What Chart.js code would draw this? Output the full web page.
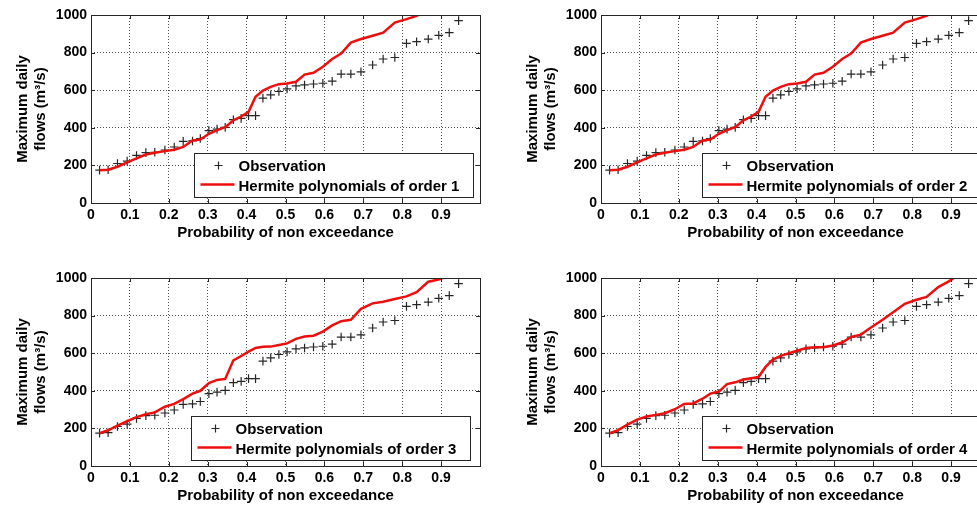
<!DOCTYPE html>
<html>
<head>
<meta charset="utf-8">
<script src="https://cdn.jsdelivr.net/npm/chart.js@4.4.1/dist/chart.umd.min.js"></script>
<style>
  html, body { margin: 0; padding: 0; background: #fff; overflow: hidden; width: 977px; height: 505px; }
  .pane { position: absolute; width: 490px; height: 250px; }
</style>
</head>
<body>
<div class="pane" style="left:0px;top:0px"><canvas id="c1"></canvas></div>
<div class="pane" style="left:510px;top:0px"><canvas id="c2"></canvas></div>
<div class="pane" style="left:0px;top:263px"><canvas id="c3"></canvas></div>
<div class="pane" style="left:510px;top:263px"><canvas id="c4"></canvas></div>
<script>
// ---- Data ----
const probability = [0.022, 0.044, 0.068, 0.093, 0.117, 0.141, 0.164, 0.190, 0.214, 0.237,
                     0.261, 0.281, 0.303, 0.324, 0.345, 0.366, 0.386, 0.405, 0.423, 0.442,
                     0.462, 0.483, 0.504, 0.527, 0.549, 0.572, 0.596, 0.620, 0.643, 0.668,
                     0.694, 0.724, 0.751, 0.781, 0.811, 0.837, 0.867, 0.894, 0.921, 0.945];

const observedFlow = [175, 177, 210, 223, 253, 268, 270, 282, 298, 328,
                      330, 343, 385, 393, 402, 443, 450, 465, 465, 558,
                      575, 593, 607, 623, 628, 633, 637, 648, 686, 686,
                      698, 734, 766, 774, 849, 858, 872, 892, 906, 970];

const hermiteOrder1 = [174, 177, 193, 216, 237, 258, 267, 276, 283, 298,
                       333, 338, 368, 388, 403, 440, 460, 485, 565, 598,
                       618, 632, 636, 645, 683, 693, 725, 766, 795, 853,
                       872, 890, 906, 960, 978, 995, 1030, null, null, null];

const hermiteOrder2 = [174, 177, 193, 216, 237, 258, 267, 276, 283, 298,
                       333, 338, 368, 388, 403, 440, 460, 485, 565, 598,
                       618, 632, 636, 645, 683, 693, 725, 766, 795, 853,
                       872, 890, 906, 960, 978, 995, 1030, null, null, null];

const hermiteOrder3 = [174, 190, 215, 238, 260, 275, 285, 315, 330, 356,
                       385, 400, 441, 458, 463, 562, 585, 608, 628, 634,
                       635, 644, 652, 676, 689, 693, 715, 748, 770, 778,
                       836, 865, 874, 888, 902, 925, 980, 992, 1016, null];

const hermiteOrder4 = [174, 191, 220, 247, 263, 272, 281, 302, 330, 333,
                       358, 385, 396, 436, 445, 460, 467, 473, 527, 566,
                       586, 600, 613, 628, 632, 632, 641, 657, 686, 699,
                       737, 778, 818, 863, 884, 899, 952, 982, 1020, null];

const xTicks = [0, 0.1, 0.2, 0.3, 0.4, 0.5, 0.6, 0.7, 0.8, 0.9];
const yTicks = [0, 200, 400, 600, 800, 1000];

const xTitle = 'Probability of non exceedance';
const yTitle = ['Maximum daily', 'flows (m\u00B3/s)'];
const obsLabel = 'Observation';
const modelLabels = ['Hermite polynomials of order 1', 'Hermite polynomials of order 2',
                     'Hermite polynomials of order 3', 'Hermite polynomials of order 4'];

// ---- Styling ----
Chart.defaults.font.family = '"Liberation Sans", Arial, sans-serif';
Chart.defaults.font.weight = 'bold';
Chart.defaults.font.size = 14;
Chart.defaults.color = '#000';

const FRAME = '#262626';
const RED = 'rgb(238,14,14)';
const MARK = '#262626';

const framePlugin = {
  id: 'frameLegend',
  afterDatasetsDraw(chart, args, opts) {
    const ctx = chart.ctx;
    const a = chart.chartArea;
    const xs = chart.scales.x, ys = chart.scales.y;
    ctx.save();
    // box
    ctx.strokeStyle = FRAME;
    ctx.lineWidth = 1;
    ctx.strokeRect(Math.round(a.left) + 0.5, Math.round(a.top) + 0.5,
                   Math.round(a.right - a.left), Math.round(a.bottom - a.top));
    // inward tick marks
    ctx.beginPath();
    const tl = 4;
    xs.ticks.forEach(t => {
      const px = Math.round(xs.getPixelForValue(t.value)) + 0.5;
      ctx.moveTo(px, a.bottom); ctx.lineTo(px, a.bottom - tl);
      ctx.moveTo(px, a.top); ctx.lineTo(px, a.top + tl);
    });
    ys.ticks.forEach(t => {
      const py = Math.round(ys.getPixelForValue(t.value)) + 0.5;
      ctx.moveTo(a.left, py); ctx.lineTo(a.left + tl, py);
      ctx.moveTo(a.right, py); ctx.lineTo(a.right - tl, py);
    });
    ctx.stroke();

    // legend box
    const dsObs = chart.data.datasets[0];
    const dsModel = chart.data.datasets[1];
    const x0 = Math.round(a.left + opts.left) + 0.5;
    const y0 = Math.round(a.bottom - 50) + 0.5;
    const w = 279, h = 44;
    ctx.fillStyle = '#fff';
    ctx.fillRect(x0, y0, w, h);
    ctx.strokeStyle = FRAME;
    ctx.strokeRect(x0, y0, w, h);
    const r1 = y0 + 12, r2 = y0 + 32;
    // row 1 : marker
    ctx.strokeStyle = dsObs.borderColor;
    ctx.lineWidth = 1.2;
    ctx.beginPath();
    ctx.moveTo(x0 + 20, r1); ctx.lineTo(x0 + 28, r1);
    ctx.moveTo(x0 + 24, r1 - 4); ctx.lineTo(x0 + 24, r1 + 4);
    ctx.stroke();
    // row 2 : line
    ctx.strokeStyle = dsModel.borderColor;
    ctx.lineWidth = 2.5;
    ctx.beginPath();
    ctx.moveTo(x0 + 6, r2 - 1); ctx.lineTo(x0 + 40, r2 - 1);
    ctx.stroke();
    ctx.fillStyle = '#000';
    ctx.font = 'bold 15px "Liberation Sans", Arial, sans-serif';
    ctx.textBaseline = 'middle';
    ctx.textAlign = 'left';
    ctx.fillText(dsObs.label, x0 + 44, r1 + 1);
    ctx.fillText(dsModel.label, x0 + 44, r2 + 1);
    ctx.restore();
  }
};

function makeChart(id, model, label, legendLeft) {
  const obsPoints = probability.map((p, i) => ({ x: p, y: observedFlow[i] }));
  const modelPoints = probability.map((p, i) => ({ x: p, y: model[i] })).filter(d => d.y !== null);
  return new Chart(document.getElementById(id), {
    type: 'scatter',
    data: {
      datasets: [
        {
          label: obsLabel,
          data: obsPoints,
          pointStyle: 'cross',
          pointRadius: 4.3,
          pointBorderWidth: 1.2,
          borderColor: MARK,
          backgroundColor: MARK,
          order: 2
        },
        {
          label: label,
          data: modelPoints,
          showLine: true,
          pointRadius: 0,
          borderColor: RED,
          backgroundColor: RED,
          borderWidth: 2.5,
          tension: 0,
          order: 1
        }
      ]
    },
    options: {
      responsive: true,
      maintainAspectRatio: false,
      animation: false,
      devicePixelRatio: 1,
      layout: { padding: { top: 15, right: 10, left: 0, bottom: 0 } },
      plugins: {
        legend: { display: false },
        tooltip: { enabled: false },
        frameLegend: { left: legendLeft }
      },
      scales: {
        x: {
          type: 'linear',
          min: 0, max: 1,
          afterBuildTicks: s => { s.ticks = xTicks.map(v => ({ value: v })); },
          afterFit: s => { s.height = 47; },
          ticks: {
            padding: 4,
            autoSkip: false,
            maxRotation: 0,
            font: { size: 14, weight: 'bold' },
            callback: v => String(Math.round(v * 10) / 10)
          },
          grid: { color: '#555', lineWidth: 1, drawTicks: false },
          border: { display: false, dash: [1, 2] },
          title: {
            display: true, text: xTitle,
            font: { size: 15, weight: 'bold', lineHeight: 1.25 },
            padding: { top: 0, bottom: 8 }
          }
        },
        y: {
          type: 'linear',
          min: 0, max: 1000,
          afterBuildTicks: s => { s.ticks = yTicks.map(v => ({ value: v })); },
          afterFit: s => { s.width = 91; },
          ticks: {
            padding: 4,
            font: { size: 14, weight: 'bold' },
            callback: v => String(v)
          },
          grid: { color: '#555', lineWidth: 1, drawTicks: false },
          border: { display: false, dash: [1, 2] },
          title: {
            display: true, text: yTitle,
            font: { size: 15, weight: 'bold', lineHeight: 1.25 },
            padding: { top: 13, bottom: 0 }
          }
        }
      }
    },
    plugins: [framePlugin]
  });
}

makeChart('c1', hermiteOrder1, modelLabels[0], 103);
makeChart('c2', hermiteOrder2, modelLabels[1], 101);
makeChart('c3', hermiteOrder3, modelLabels[2], 100);
makeChart('c4', hermiteOrder4, modelLabels[3], 101);
</script>
</body>
</html>
